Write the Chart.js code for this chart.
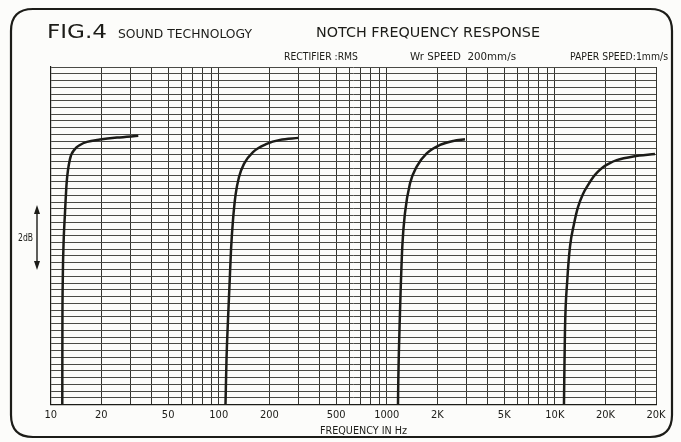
<!DOCTYPE html>
<html><head><meta charset="utf-8">
<script src="https://cdn.jsdelivr.net/npm/chart.js@4/dist/chart.umd.min.js"></script>
<style>html,body{margin:0;padding:0;background:#fcfcfa;}#wrap{width:681px;height:442px;}</style>
</head><body><div id="wrap"><canvas id="c" width="681" height="442"></canvas></div>
<script>
// ---- data (frequency in Hz, level in dB relative to top of paper) ----
const notch1Freq  = [11.72, 11.74, 11.80, 11.92, 12.16, 12.45, 13.02, 13.95, 14.94, 16.44, 19.65, 24.80, 33.21];
const notch1Level = [-10, -7.79, -6.31, -5.27, -4.33, -3.41, -2.73, -2.43, -2.31, -2.22, -2.15, -2.09, -2.04];
const notch2Freq  = [109.7, 111.2, 113.5, 115.9, 118.3, 121.6, 125.9, 132.0, 141.3, 159.9, 192.9, 231.5, 297.5];
const notch2Level = [-10, -8.68, -7.50, -6.46, -5.42, -4.53, -3.79, -3.26, -2.87, -2.52, -2.28, -2.16, -2.10];
const notch3Freq  = [1166, 1171, 1198, 1237, 1283, 1374, 1507, 1728, 2074, 2487, 2920];
const notch3Level = [-10, -9.27, -7.29, -5.32, -4.33, -3.45, -2.95, -2.56, -2.31, -2.19, -2.14];
const notch4Freq  = [11336, 11381, 11491, 11863, 12311, 13002, 13734, 14711, 15755, 16937, 18061, 19427, 21003, 23345, 29306, 39445];
const notch4Level = [-10, -9.27, -7.79, -6.31, -5.32, -4.65, -4.15, -3.76, -3.50, -3.26, -3.10, -2.96, -2.86, -2.76, -2.65, -2.58];

const tickValues = [10, 20, 50, 100, 200, 500, 1000, 2000, 5000, 10000, 20000, 40000];
const tickLabels = ['10', '20', '50', '100', '200', '500', '1000', '2K', '5K', '10K', '20K', '20K'];
const gridDecades = [10, 100, 1000, 10000];
const gridMultipliers = [1, 2, 3, 4, 5, 6, 7, 8, 9];
const levelMin = -10, levelMax = 0, levelDivision = 0.2;

const headerTexts = {
  fig: 'FIG.4', maker: 'SOUND TECHNOLOGY', title: 'NOTCH FREQUENCY RESPONSE',
  rect: 'RECTIFIER :RMS', wr: 'Wr SPEED  200mm/s', paper: 'PAPER SPEED:1mm/s',
  xTitle: 'FREQUENCY IN Hz', scaleNote: '2dB'
};

const INK = '#1c1c18';
const NARROW = "'Liberation Sans Narrow','DejaVu Sans Condensed',sans-serif";
const GEO = "'DejaVu Sans','Noto Sans',sans-serif";

function pts(f, l) { return f.map((x, i) => ({ x: x, y: l[i] })); }
function ds(f, l) {
  return { data: pts(f, l), borderColor: INK, borderWidth: 2.5, pointRadius: 0,
           cubicInterpolationMode: 'monotone', fill: false };
}

const gridFreqs = [];
gridDecades.forEach(d => gridMultipliers.forEach(m => { const v = d * m; if (v <= 40000) gridFreqs.push(v); }));
const gridLevels = [];
for (let i = 0; i <= Math.round((levelMax - levelMin) / levelDivision); i++) gridLevels.push(+(levelMin + i * levelDivision).toFixed(2));

function fitText(ctx, text, x0, x1, yc, font) {
  ctx.save();
  ctx.font = font;
  const w = ctx.measureText(text).width;
  const s = (x1 - x0) / w;
  ctx.translate(x0, yc);
  ctx.scale(s, 1);
  ctx.textBaseline = 'middle';
  ctx.textAlign = 'left';
  ctx.fillStyle = INK;
  ctx.fillText(text, 0, 0);
  ctx.restore();
}

const decor = {
  id: 'decor',
  beforeDraw(chart) {
    const ctx = chart.ctx;
    ctx.save();
    ctx.fillStyle = '#fcfcfa';
    ctx.fillRect(0, 0, chart.width, chart.height);
    ctx.restore();
  },
  afterDraw(chart) {
    const ctx = chart.ctx;
    ctx.save();
    ctx.strokeStyle = INK;
    ctx.lineWidth = 2.2;
    const x0 = 11, y0 = 9, x1 = 672, y1 = 437, r = 22;
    ctx.beginPath();
    ctx.moveTo(x0 + r, y0);
    ctx.lineTo(x1 - r, y0);
    ctx.quadraticCurveTo(x1, y0, x1, y0 + r);
    ctx.lineTo(x1, y1 - r);
    ctx.quadraticCurveTo(x1, y1, x1 - r, y1);
    ctx.lineTo(x0 + r, y1);
    ctx.quadraticCurveTo(x0, y1, x0, y1 - r);
    ctx.lineTo(x0, y0 + r);
    ctx.quadraticCurveTo(x0, y0, x0 + r, y0);
    ctx.stroke();
    fitText(ctx, headerTexts.fig, 47, 107, 33, '20px ' + GEO);
    fitText(ctx, headerTexts.maker, 118, 252, 35, '13px ' + GEO);
    fitText(ctx, headerTexts.title, 316, 540, 33, '14px ' + GEO);
    fitText(ctx, headerTexts.rect, 284, 358, 57, '11px ' + NARROW);
    fitText(ctx, headerTexts.wr, 410, 516, 57, '11px ' + NARROW);
    fitText(ctx, headerTexts.paper, 570, 668, 57, '11px ' + NARROW);
    fitText(ctx, headerTexts.xTitle, 320, 407, 431, '10px ' + NARROW);
    fitText(ctx, headerTexts.scaleNote, 18, 33, 238, '10px ' + NARROW);
    const ax = 37, ya = 205, yb = 270;
    ctx.strokeStyle = INK; ctx.fillStyle = INK; ctx.lineWidth = 1.4;
    ctx.beginPath(); ctx.moveTo(ax, ya + 4); ctx.lineTo(ax, yb - 4); ctx.stroke();
    ctx.beginPath(); ctx.moveTo(ax, ya); ctx.lineTo(ax - 3, ya + 9); ctx.lineTo(ax + 3, ya + 9); ctx.closePath(); ctx.fill();
    ctx.beginPath(); ctx.moveTo(ax, yb); ctx.lineTo(ax - 3, yb - 9); ctx.lineTo(ax + 3, yb - 9); ctx.closePath(); ctx.fill();
    ctx.restore();
  }
};

new Chart(document.getElementById('c'), {
  type: 'line',
  data: { datasets: [ds(notch1Freq, notch1Level), ds(notch2Freq, notch2Level), ds(notch3Freq, notch3Level), ds(notch4Freq, notch4Level)] },
  options: {
    responsive: false, animation: false, devicePixelRatio: 1,
    layout: { padding: { left: 50.7, right: 25, top: 67, bottom: 0 } },
    plugins: { legend: { display: false }, tooltip: { enabled: false } },
    scales: {
      x: {
        type: 'logarithmic', min: 10, max: 40000,
        afterBuildTicks: s => { s.ticks = gridFreqs.map(v => ({ value: v })); },
        afterFit: s => { s.height = 37.5; },
        ticks: {
          autoSkip: false, maxRotation: 0, minRotation: 0, padding: 4, color: INK,
          font: { family: NARROW, size: 11 },
          callback: v => { const i = tickValues.indexOf(v); return i >= 0 ? tickLabels[i] : ''; }
        },
        grid: { color: '#34342f', lineWidth: 1, drawTicks: false },
        border: { color: INK, width: 1.2 }
      },
      y: {
        type: 'linear', min: levelMin, max: levelMax,
        afterBuildTicks: s => { s.ticks = gridLevels.map(v => ({ value: v })); },
        afterFit: s => { s.width = 0; },
        ticks: { display: false },
        grid: { color: '#4a4a45', lineWidth: 1, drawTicks: false },
        border: { color: INK, width: 1.2 }
      }
    }
  },
  plugins: [decor]
});
</script>
</body></html>
